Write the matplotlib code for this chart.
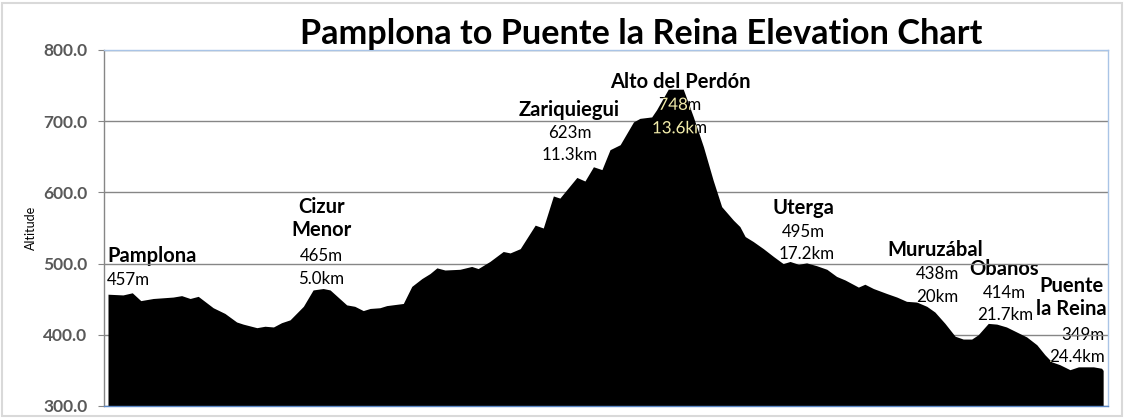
import numpy as np
import matplotlib.pyplot as plt
import matplotlib.patheffects as pe
from matplotlib.patches import Rectangle

# Elevation profile (distance in km, altitude in m)
dist_km = [0.00, 0.37, 0.60, 0.81, 1.12, 1.61, 1.82, 2.03, 2.23, 2.60,
           2.89, 3.18, 3.34, 3.68, 3.88, 4.09, 4.29, 4.50, 4.83, 5.07,
           5.32, 5.49, 5.90, 6.10, 6.31, 6.48, 6.72, 6.89, 7.30, 7.51,
           7.76, 7.96, 8.13, 8.33, 8.70, 8.99, 9.15, 9.44, 9.77, 9.94,
           10.19, 10.56, 10.76, 11.01, 11.17, 11.59, 11.79, 12.00, 12.21, 12.41,
           12.66, 12.99, 13.15, 13.44, 13.56, 13.85, 14.22, 14.47, 14.72, 14.96,
           15.17, 15.46, 15.62, 15.75, 15.95, 16.20, 16.45, 16.69, 16.86, 17.07,
           17.27, 17.52, 17.77, 18.01, 18.22, 18.55, 18.71, 18.92, 19.25, 19.50,
           19.74, 19.99, 20.24, 20.44, 20.69, 20.94, 21.14, 21.35, 21.51, 21.76,
           21.97, 22.21, 22.46, 22.71, 22.96, 23.16, 23.33, 23.53, 23.78, 23.99,
           24.36, 24.56, 24.60]
elev_m = [457, 456, 459, 448, 451, 453, 455, 451, 454, 438,
          430, 418, 415, 410, 412, 411, 417, 421, 440, 463,
          465, 463, 442, 440, 434, 437, 438, 441, 444, 468,
          479, 486, 494, 491, 492, 496, 493, 503, 517, 515,
          521, 554, 550, 595, 592, 621, 616, 636, 632, 660,
          667, 699, 704, 706, 716, 745, 745, 706, 664, 617,
          580, 561, 552, 538, 531, 521, 510, 500, 503, 499,
          501, 497, 492, 482, 477, 467, 471, 465, 458, 453,
          447, 446, 440, 432, 416, 398, 394, 394, 400, 416,
          415, 411, 404, 397, 386, 372, 362, 358, 351, 355,
          355, 353, 350]

# Town labels
towns = ["Pamplona", "Cizur\nMenor", "Zariquiegui", "Alto del Perdón", "Uterga",
         "Muruzábal", "Obanos", "Puente\nla Reina"]
town_alt = ["457m", "465m", "623m", "748m", "495m", "438m", "414m", "349m"]
town_km = ["", "5.0km", "11.3km", "13.6km", "17.2km", "20km", "21.7km", "24.4km"]

yticks = [300, 400, 500, 600, 700, 800]

# label anchor positions (km, altitude) for name / altitude / distance lines
name_pos = [(-0.02, 511), (5.27, 563), (11.40, 716), (14.14, 755), (17.18, 578),
            (20.45, 519), (22.15, 492), (23.82, 452)]
alt_pos = [(-0.02, 477), (5.27, 511), (11.42, 683), (14.14, 723), (17.18, 544),
           (20.50, 485), (22.17, 459), (24.10, 400)]
km_pos = [None, (5.27, 478), (11.42, 652), (14.14, 690), (17.28, 514),
          (20.50, 453), (22.17, 428), (23.96, 369)]

FONT = "Lato"
YELLOW = "#f2ecaa"

fig = plt.figure(figsize=(11.25, 4.18), dpi=100)
fig.patch.set_facecolor("white")
fig.add_artist(Rectangle((0.0015, 0.004), 0.996, 0.99, transform=fig.transFigure,
                         fill=False, ec="#d9d9d9", lw=1.5))

ax = fig.add_axes([104 / 1125, 12 / 418, 1004 / 1125, 356 / 418])
area = ax.fill_between(dist_km, elev_m, 300, color="black", lw=0, zorder=2)

ax.set_xlim(-0.099, 24.72)
ax.set_ylim(300, 800)
ax.set_xticks([])
ax.set_yticks(yticks)
ax.set_yticklabels(["%.1f" % v for v in yticks], fontfamily=FONT, fontweight="bold")
ax.tick_params(axis="y", length=4, color="#868686", labelsize=12.5,
               labelcolor="#595959", pad=8)
ax.set_axisbelow(True)
ax.yaxis.grid(True, color="#868686", lw=1)

ax.spines["left"].set_color("#868686")
ax.spines["bottom"].set_color("#5b87c5")
ax.spines["top"].set_color("#a9c4e6")
ax.spines["right"].set_color("#a9c4e6")
for s in ax.spines.values():
    s.set_linewidth(1)

clip_path = area.get_paths()[0]


def label(x, y, s, ha, bold, size):
    kw = dict(ha=ha, va="center", fontsize=size, fontfamily=FONT,
              fontweight="bold" if bold else "normal", linespacing=1.2)
    ax.text(x, y, s, color="black", zorder=0.4, **kw)
    # same text in yellow, drawn as a path so that it is clipped to the black area
    t = ax.text(x, y, s, color=YELLOW, zorder=3, clip_on=True,
                path_effects=[pe.Normal()], **kw)
    t.set_clip_path(clip_path, ax.transData)


for i, name in enumerate(towns):
    ha = "left" if i == 0 else "center"
    label(name_pos[i][0], name_pos[i][1], name, ha, True, 14.5)
    label(alt_pos[i][0], alt_pos[i][1], town_alt[i], ha, False, 12.2)
    if km_pos[i] is not None:
        label(km_pos[i][0], km_pos[i][1], town_km[i], ha, False, 12.2)

fig.text(641 / 1125, 1 - 34 / 418, "Pamplona to Puente la Reina Elevation Chart",
         ha="center", va="center", fontsize=24.7, fontweight="bold", fontfamily=FONT)
fig.text(31 / 1125, 1 - 228 / 418, "Altitude", rotation=90, ha="center", va="center",
         fontsize=9, fontfamily=FONT)

fig.savefig("out.png", dpi=100)
